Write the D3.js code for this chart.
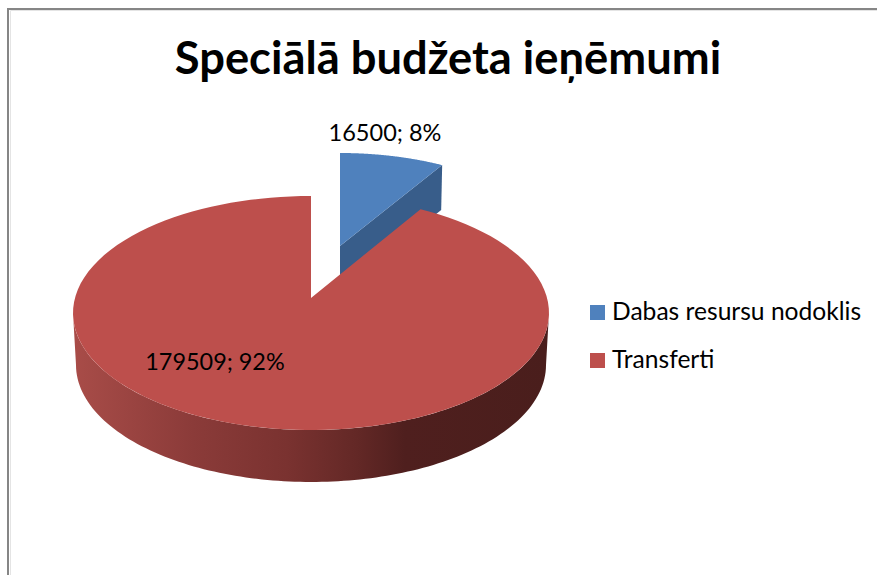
<!DOCTYPE html>
<html><head><meta charset="utf-8">
<script src="https://cdn.jsdelivr.net/npm/d3@7"></script>
<style>html,body{margin:0;padding:0;background:#fff}svg{display:block}text{font-family:Lato,"Open Sans",sans-serif;fill:#000}</style>
</head><body><svg id="c" width="877" height="575"></svg>
<script>
const categories = ["Dabas resursu nodoklis", "Transferti"];
const values = [16500, 179509];
const colors = ["#4f81bd", "#bd4f4c"];
const title = "Speciālā budžeta ieņēmumi";

const svg = d3.select("#c");
const total = d3.sum(values);
const arcs = d3.pie().sort(null).value(d => d)(values);
const label = i => `${values[i]}; ${d3.format(".0f")(values[i] / total * 100)}%`;

// gradient of the red slice's side wall
const defs = svg.append("defs");
const g = defs.append("linearGradient").attr("id", "wall").attr("gradientUnits", "userSpaceOnUse")
  .attr("x1", 75).attr("x2", 546).attr("y1", 0).attr("y2", 0);
[[0, "#a84c48"], [0.25, "#8b3b39"], [0.45, "#7a3230"], [0.6, "#632826"], [0.7, "#4f1f1e"], [1, "#4a1e1c"]]
  .forEach(([o, c]) => g.append("stop").attr("offset", o).attr("stop-color", c));

// perspective foreshortening of pie angles on the tilted disc
const k = 0.887;
const proj = a => Math.atan2(k * Math.sin(a), Math.cos(a));
const pt = (e, a) => { const p = proj(a); return [e.cx + e.rx * Math.sin(p), e.cy - e.ry * Math.cos(p)]; };
const rim = (e, a0, a1) => d3.range(0, 121).map(i => pt(e, a0 + (a1 - a0) * i / 120));
const line = d3.line();

const redTop = { cx: 311, cy: 313, rx: 238, ry: 117 };
const redBot = { cx: 311, cy: 365, rx: 235, ry: 117 };
const redApex = [311, 298];
const blueTop = { cx: 340, cy: 261, rx: 222, ry: 108 };
const blueApex = [340, 246], blueDepth = 45;

// frame
svg.append("path").attr("d", "M10.5,575V10.5H877").attr("fill", "none").attr("stroke", "#e4e4e4").attr("stroke-width", 1);
svg.append("path").attr("d", "M8,575V9H877").attr("fill", "none").attr("stroke", "#868686").attr("stroke-width", 2);

// blue slice, exploded behind the red one
const b = arcs[0], r = arcs[1];
const corner = pt(blueTop, b.endAngle);
svg.append("path").attr("fill", "#385d8a")
  .attr("d", line([blueApex, corner, [corner[0] - 1, corner[1] + blueDepth], [blueApex[0], blueApex[1] + blueDepth]]) + "Z");
svg.append("path").attr("fill", colors[0])
  .attr("d", line([blueApex, ...rim(blueTop, b.startAngle, b.endAngle)]) + "Z");

// red slice: side wall then top
const wallTop = rim(redTop, Math.PI / 2, 3 * Math.PI / 2);
const wallBot = rim(redBot, Math.PI / 2, 3 * Math.PI / 2).reverse();
svg.append("path").attr("fill", "url(#wall)").attr("d", line([...wallTop, ...wallBot]) + "Z");
svg.append("path").attr("fill", colors[1])
  .attr("d", line([redApex, ...rim(redTop, r.startAngle, r.endAngle)]) + "Z");

// title and data labels
svg.append("text").attr("x", 448).attr("y", 74).attr("text-anchor", "middle")
  .attr("font-size", 45.3).attr("font-weight", 700).text(title);
svg.append("text").attr("x", 385).attr("y", 141).attr("text-anchor", "middle").attr("font-size", 23.5).text(label(0));
svg.append("text").attr("x", 215).attr("y", 370).attr("text-anchor", "middle").attr("font-size", 23.4).text(label(1));

// legend
const ly = d3.scalePoint().domain(categories).range([305, 353]);
const leg = svg.selectAll("g.leg").data(categories).join("g").attr("class", "leg")
  .attr("transform", d => `translate(590,${ly(d)})`);
leg.append("rect").attr("width", 15).attr("height", 15).attr("fill", (d, i) => colors[i]);
leg.append("text").attr("x", 22).attr("y", 15).attr("font-size", 24.6).text(d => d);
</script></body></html>
